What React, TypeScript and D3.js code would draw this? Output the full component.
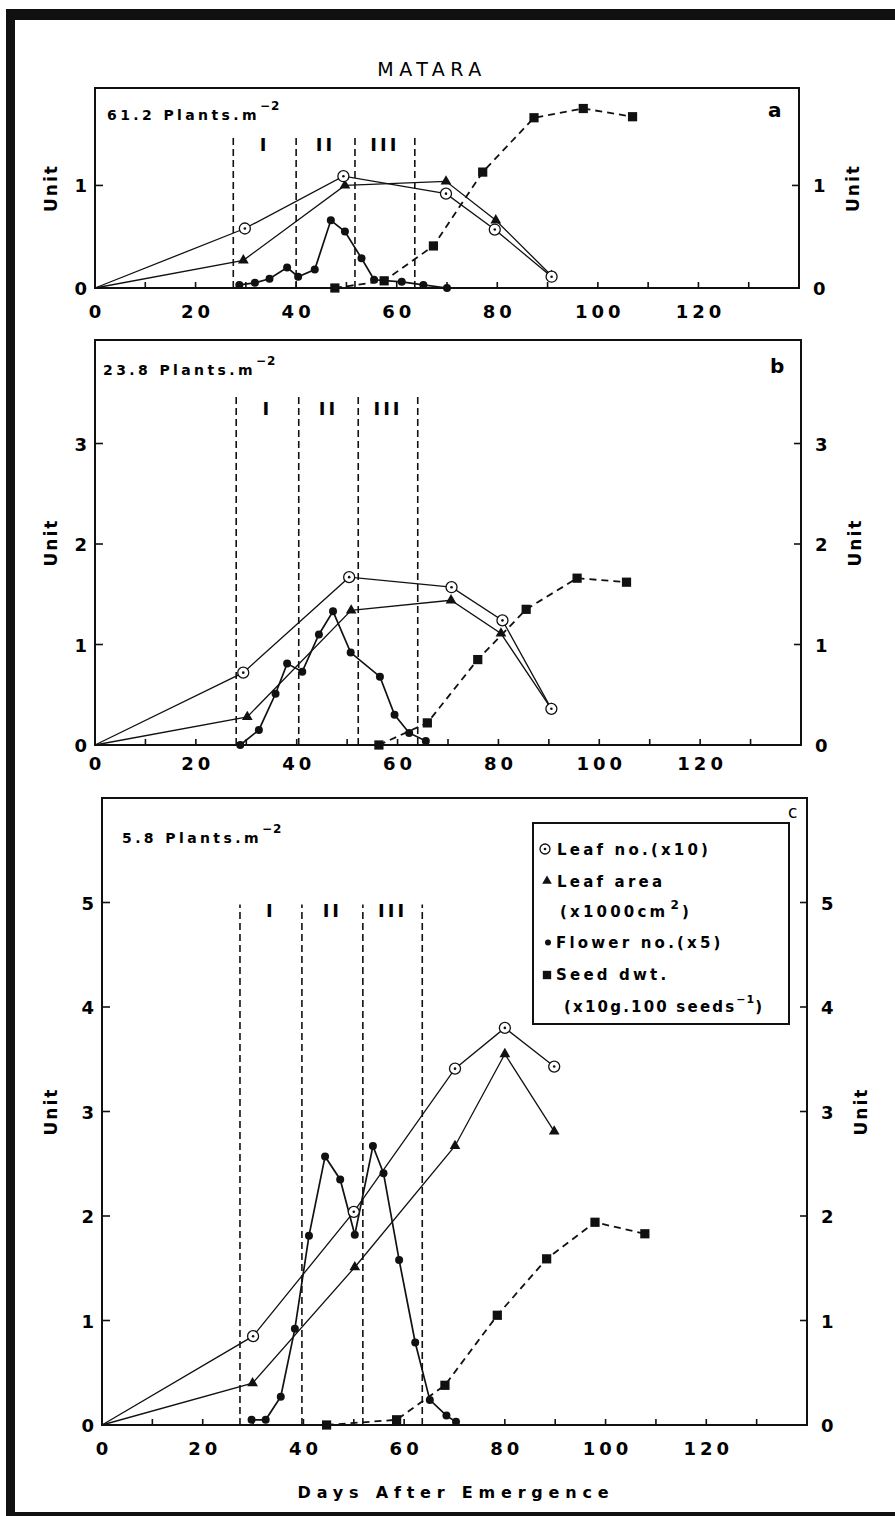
import React from 'react';
import * as d3 from 'd3';

type Pt = [number, number];

// ---- Panel a: 61.2 plants.m-2 ----
const leafNoA: Pt[] = [[0, 0], [29.8, 0.58], [49.4, 1.09], [69.8, 0.92], [79.5, 0.57], [90.8, 0.11]];
const leafAreaA: Pt[] = [[0, 0], [29.5, 0.27], [49.7, 1.0], [69.8, 1.04], [79.7, 0.66], [90.8, 0.12]];
const flowerA: Pt[] = [[28.7, 0.03], [31.8, 0.05], [34.7, 0.09], [38.2, 0.2], [40.4, 0.11], [43.7, 0.18], [46.9, 0.66], [49.7, 0.55], [53.0, 0.29], [55.5, 0.08], [61.0, 0.06], [65.3, 0.03], [70.0, 0.0]];
const seedA: Pt[] = [[47.7, 0.0], [57.5, 0.07], [67.3, 0.41], [77.1, 1.13], [87.3, 1.66], [97.1, 1.75], [106.9, 1.67]];
const phasesA = [27.5, 40.0, 51.7, 63.6];

// ---- Panel b: 23.8 plants.m-2 ----
const leafNoB: Pt[] = [[0, 0], [29.4, 0.72], [50.4, 1.67], [70.7, 1.57], [80.8, 1.24], [90.5, 0.36]];
const leafAreaB: Pt[] = [[0, 0], [30.2, 0.28], [50.8, 1.34], [70.6, 1.44], [80.5, 1.11], [90.5, 0.36]];
const flowerB: Pt[] = [[28.8, 0.0], [32.5, 0.15], [35.8, 0.51], [38.1, 0.81], [41.1, 0.73], [44.4, 1.1], [47.2, 1.33], [50.7, 0.92], [56.5, 0.68], [59.4, 0.3], [62.3, 0.12], [65.6, 0.04]];
const seedB: Pt[] = [[56.3, 0.0], [65.9, 0.22], [75.9, 0.85], [85.5, 1.35], [95.6, 1.66], [105.4, 1.62]];
const phasesB = [28.0, 40.4, 52.2, 64.0];

// ---- Panel c: 5.8 plants.m-2 ----
const leafNoC: Pt[] = [[0, 0], [30.0, 0.85], [50.0, 2.04], [70.1, 3.41], [80.0, 3.8], [89.8, 3.43]];
const leafAreaC: Pt[] = [[0, 0], [29.9, 0.4], [50.2, 1.51], [70.1, 2.67], [80.0, 3.55], [89.8, 2.81]];
const flowerC: Pt[] = [[29.7, 0.05], [32.5, 0.05], [35.5, 0.27], [38.3, 0.92], [41.1, 1.81], [44.3, 2.57], [47.3, 2.35], [50.2, 1.82], [53.8, 2.67], [55.9, 2.41], [59.0, 1.58], [62.2, 0.79], [65.1, 0.24], [68.4, 0.09], [70.3, 0.03]];
const seedC: Pt[] = [[44.6, 0.0], [58.5, 0.05], [68.1, 0.38], [78.5, 1.05], [88.3, 1.59], [97.9, 1.94], [107.8, 1.83]];
const phasesC = [27.4, 39.7, 51.8, 63.6];

const densities = ['61.2', '23.8', '5.8'];
const panelLetters = ['a', 'b', 'c'];
const phaseNames = ['I', 'II', 'III'];
const xTickDays = d3.range(10, 140, 10);
const xLabelDays = [0, 20, 40, 60, 80, 100, 120];
const yTicksA = [0, 1];
const yTicksB = [0, 1, 2, 3];
const yTicksC = [0, 1, 2, 3, 4, 5];

const FONT = '"DejaVu Sans", "Liberation Sans", sans-serif';

interface PanelSpec {
  leafNo: Pt[];
  leafArea: Pt[];
  flower: Pt[];
  seed: Pt[];
  phases: number[];
  phaseTop: number;
  yMax: number;
  yTicks: number[];
  density: string;
  letter: string;
  left: number;
  right: number;
  top: number;
  bottom: number;
  xLabelDy: number;
  romanY: number;
  densityX: number;
  densityY: number;
  letterX: number;
  letterY: number;
  letterSize: number;
  letterWeight: string;
}

const panels: PanelSpec[] = [
  {
    leafNo: leafNoA, leafArea: leafAreaA, flower: flowerA, seed: seedA, phases: phasesA,
    phaseTop: 1.49, yMax: 1.95, yTicks: yTicksA, density: densities[0], letter: panelLetters[0],
    left: 95, right: 799, top: 88, bottom: 288, xLabelDy: 30, romanY: 151,
    densityX: 107, densityY: 120, letterX: 768, letterY: 117, letterSize: 20, letterWeight: 'bold',
  },
  {
    leafNo: leafNoB, leafArea: leafAreaB, flower: flowerB, seed: seedB, phases: phasesB,
    phaseTop: 3.5, yMax: 4.03, yTicks: yTicksB, density: densities[1], letter: panelLetters[1],
    left: 95, right: 801, top: 340, bottom: 745, xLabelDy: 25, romanY: 415,
    densityX: 103, densityY: 375, letterX: 770, letterY: 373, letterSize: 20, letterWeight: 'bold',
  },
  {
    leafNo: leafNoC, leafArea: leafAreaC, flower: flowerC, seed: seedC, phases: phasesC,
    phaseTop: 4.98, yMax: 6.0, yTicks: yTicksC, density: densities[2], letter: panelLetters[2],
    left: 102, right: 807, top: 798, bottom: 1425, xLabelDy: 30, romanY: 917,
    densityX: 122, densityY: 843, letterX: 788, letterY: 818, letterSize: 17, letterWeight: 'normal',
  },
];

const triPath = d3.symbol(d3.symbolTriangle, 50)()!;
const sqPath = d3.symbol(d3.symbolSquare, 85)()!;

function CircleDot({ cx, cy, r = 5.5 }: { cx: number; cy: number; r?: number }) {
  return (
    <g>
      <circle cx={cx} cy={cy} r={r} fill="#fff" stroke="#111" strokeWidth={1.3} />
      <circle cx={cx} cy={cy} r={1.3} fill="#111" />
    </g>
  );
}

function Panel({ p }: { p: PanelSpec }) {
  const x = d3.scaleLinear().domain([0, 140]).range([p.left, p.right]);
  const y = d3.scaleLinear().domain([0, p.yMax]).range([p.bottom, p.top]);
  const line = d3.line<Pt>().x((d) => x(d[0])).y((d) => y(d[1]));
  const mids = p.phases.slice(0, 3).map((d, i) => (d + p.phases[i + 1]) / 2);
  const midY = (p.top + p.bottom) / 2;

  return (
    <g>
      {/* frame */}
      <rect x={p.left} y={p.top} width={p.right - p.left} height={p.bottom - p.top} fill="none" stroke="#111" strokeWidth={2} />

      {/* x ticks (inward) */}
      {xTickDays.map((d) => (
        <line key={'xt' + d} x1={x(d)} x2={x(d)} y1={p.bottom} y2={p.bottom - 6} stroke="#111" strokeWidth={1.6} />
      ))}
      {xLabelDays.map((d) => (
        <text key={'xl' + d} x={x(d) + 2} y={p.bottom + p.xLabelDy} textAnchor="middle" fontFamily={FONT} fontWeight="bold" fontSize={18} letterSpacing={4}>
          {d}
        </text>
      ))}

      {/* y ticks on both sides */}
      {p.yTicks.map((v) => (
        <g key={'yt' + v}>
          {v > 0 && <line x1={p.left} x2={p.left + 8} y1={y(v)} y2={y(v)} stroke="#111" strokeWidth={1.6} />}
          {v > 0 && <line x1={p.right} x2={p.right - 7} y1={y(v)} y2={y(v)} stroke="#111" strokeWidth={1.6} />}
          <text x={p.left - 8} y={y(v) + 7} textAnchor="end" fontFamily={FONT} fontWeight="bold" fontSize={18}>{v}</text>
          <text x={p.right + 14} y={y(v) + 7} textAnchor="start" fontFamily={FONT} fontWeight="bold" fontSize={18}>{v}</text>
        </g>
      ))}

      {/* axis titles */}
      <text transform={`translate(${57},${midY}) rotate(-90)`} textAnchor="middle" fontFamily={FONT} fontWeight="bold" fontSize={17} letterSpacing={2}>Unit</text>
      <text transform={`translate(${p.right + 60},${midY}) rotate(-90)`} textAnchor="middle" fontFamily={FONT} fontWeight="bold" fontSize={17} letterSpacing={2}>Unit</text>

      {/* density label */}
      <text x={p.densityX} y={p.densityY} fontFamily={FONT} fontWeight="bold" fontSize={14} letterSpacing={3.4}>
        {p.density + ' Plants.m'}
        <tspan dx={0} dy={-10} fontSize={12} letterSpacing={1}>−2</tspan>
      </text>

      {/* panel letter */}
      <text x={p.letterX} y={p.letterY} fontFamily={FONT} fontWeight={p.letterWeight} fontSize={p.letterSize}>{p.letter}</text>

      {/* growth phase boundaries */}
      {p.phases.map((d, i) => (
        <line key={'ph' + i} x1={x(d)} x2={x(d)} y1={y(0)} y2={y(p.phaseTop)} stroke="#111" strokeWidth={1.6} strokeDasharray="7 4" />
      ))}
      {mids.map((d, i) => (
        <text key={'pn' + i} x={x(d)} y={p.romanY} textAnchor="middle" fontFamily={FONT} fontWeight="bold" fontSize={18} letterSpacing={3}>
          {phaseNames[i]}
        </text>
      ))}

      {/* series lines */}
      <path d={line(p.leafNo)!} fill="none" stroke="#111" strokeWidth={1.3} />
      <path d={line(p.leafArea)!} fill="none" stroke="#111" strokeWidth={1.3} />
      <path d={line(p.flower)!} fill="none" stroke="#111" strokeWidth={1.7} />
      <path d={line(p.seed)!} fill="none" stroke="#111" strokeWidth={1.8} strokeDasharray="7 5" />

      {/* markers */}
      {p.seed.map((d, i) => (
        <path key={'s' + i} d={sqPath} transform={`translate(${x(d[0])},${y(d[1])})`} fill="#111" />
      ))}
      {p.flower.map((d, i) => (
        <circle key={'f' + i} cx={x(d[0])} cy={y(d[1])} r={4} fill="#111" />
      ))}
      {p.leafArea.slice(1).map((d, i) => (
        <path key={'a' + i} d={triPath} transform={`translate(${x(d[0])},${y(d[1])})`} fill="#111" />
      ))}
      {p.leafNo.slice(1).map((d, i) => (
        <CircleDot key={'n' + i} cx={x(d[0])} cy={y(d[1])} />
      ))}
    </g>
  );
}

function Legend() {
  const t = { fontFamily: FONT, fontWeight: 'bold' as const, fontSize: 15, letterSpacing: 3.2 };
  return (
    <g>
      <rect x={533} y={823} width={256} height={201} fill="#fff" stroke="#111" strokeWidth={2} />
      <CircleDot cx={545} cy={849} r={5} />
      <text x={557} y={855} {...t}>Leaf no.(x10)</text>
      <path d={d3.symbol(d3.symbolTriangle, 40)()!} transform="translate(547,881)" fill="#111" />
      <text x={557} y={887} {...t}>Leaf area</text>
      <text x={560} y={917} {...t}>
        (x1000cm
        <tspan dx={2} dy={-8} fontSize={12}>2</tspan>
        <tspan dy={8}>)</tspan>
      </text>
      <circle cx={548} cy={942.5} r={3} fill="#111" />
      <text x={556} y={948} {...t}>Flower no.(x5)</text>
      <path d={d3.symbol(d3.symbolSquare, 70)()!} transform="translate(547,975)" fill="#111" />
      <text x={556} y={980} {...t}>Seed dwt.</text>
      <text x={564} y={1012} {...t} letterSpacing={2.2}>
        (x10g.100 seeds
        <tspan dy={-9} fontSize={11} letterSpacing={1}>−1</tspan>
        <tspan dy={9}>)</tspan>
      </text>
    </g>
  );
}

export default function App() {
  return (
    <svg width={895} height={1516} viewBox="0 0 895 1516" style={{ position: 'absolute', left: 0, top: 0, background: '#fff' }}>
      <rect x={0} y={0} width={895} height={1516} fill="#fff" />
      {/* page border */}
      <rect x={6} y={9} width={889} height={11} fill="#111" />
      <rect x={6} y={9} width={9} height={1507} fill="#111" />
      <rect x={6} y={1512} width={889} height={4} fill="#111" />

      <text x={432} y={76} textAnchor="middle" fontFamily={FONT} fontSize={19} letterSpacing={5.5}>MATARA</text>

      {panels.map((p, i) => (
        <Panel key={i} p={p} />
      ))}
      <Legend />

      <text x={456} y={1498} textAnchor="middle" fontFamily={FONT} fontWeight="bold" fontSize={16} letterSpacing={5.8}>
        Days After Emergence
      </text>
    </svg>
  );
}
